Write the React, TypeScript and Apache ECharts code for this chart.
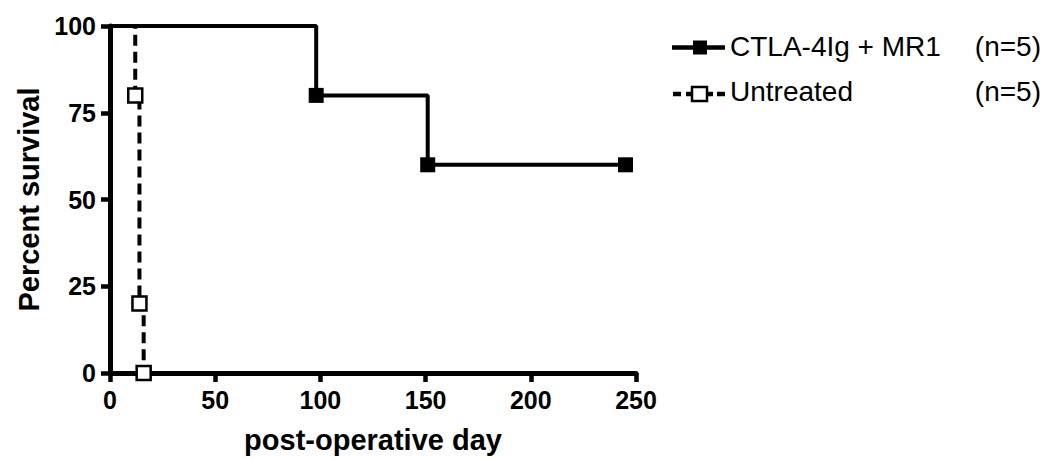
import React, { useEffect, useRef } from "react";
import * as echarts from "echarts";

const treatedDays = [0, 98, 151, 245];
const treatedSurvival = [100, 80, 60, 60];
const untreatedDays = [0, 12, 14, 16];
const untreatedSurvival = [100, 80, 20, 0];
const xTicks = [0, 50, 100, 150, 200, 250];
const yTicks = [0, 25, 50, 75, 100];
const legendNames = ["CTLA-4Ig + MR1", "Untreated"];
const legendCounts = ["(n=5)", "(n=5)"];
const xTitle = "post-operative day";
const yTitle = "Percent survival";

const FONT = "'Liberation Sans', Arial, sans-serif";

export default function App() {
  const ref = useRef<HTMLDivElement>(null);
  useEffect(() => {
    document.body.style.margin = "0";
    if (!ref.current) return;
    const chart = echarts.init(ref.current, undefined, { renderer: "svg" });
    const toData = (xs: number[], ys: number[]) =>
      xs.map((x, i) => (i === 0 ? { value: [x, ys[i]], symbol: "none" } : { value: [x, ys[i]] }));
    const textY = [46, 91];
    const symY = [47.5, 94];
    const graphics: any[] = [];
    // legend row 1: solid line with filled square
    graphics.push({
      type: "line",
      shape: { x1: 672, y1: symY[0], x2: 725, y2: symY[0] },
      style: { stroke: "#000", lineWidth: 4.5 },
    });
    graphics.push({
      type: "rect",
      shape: { x: 693, y: symY[0] - 7, width: 14, height: 14 },
      style: { fill: "#000" },
    });
    // legend row 2: dashes with open square
    graphics.push({
      type: "line",
      shape: { x1: 673, y1: symY[1], x2: 681, y2: symY[1] },
      style: { stroke: "#000", lineWidth: 4.5 },
    });
    graphics.push({
      type: "line",
      shape: { x1: 717, y1: symY[1], x2: 725, y2: symY[1] },
      style: { stroke: "#000", lineWidth: 4.5 },
    });
    graphics.push({
      type: "line",
      shape: { x1: 686, y1: symY[1], x2: 713, y2: symY[1] },
      style: { stroke: "#000", lineWidth: 4.5 },
    });
    graphics.push({
      type: "rect",
      shape: { x: 692, y: symY[1] - 7, width: 15, height: 14 },
      style: { fill: "#fff", stroke: "#000", lineWidth: 2.5 },
    });
    legendNames.forEach((n, i) => {
      graphics.push({
        type: "text",
        x: 730,
        y: textY[i],
        style: { text: n, font: `28px ${FONT}`, fill: "#000", verticalAlign: "middle", align: "left" },
      });
      graphics.push({
        type: "text",
        x: 1041,
        y: textY[i],
        style: { text: legendCounts[i], font: `28px ${FONT}`, fill: "#000", verticalAlign: "middle", align: "right" },
      });
    });

    const axisCommon = {
      axisLine: { show: true, lineStyle: { color: "#000", width: 5 } },
      axisTick: { show: true, inside: false, length: 9, lineStyle: { color: "#000", width: 4.5 } },
      splitLine: { show: false },
      axisLabel: { color: "#000", fontSize: 25, fontWeight: "bold", fontFamily: FONT },
      nameTextStyle: { color: "#000", fontSize: 29, fontWeight: "bold", fontFamily: FONT },
    };

    chart.setOption({
      animation: false,
      backgroundColor: "#fff",
      grid: { left: 110, right: 411, top: 26, bottom: 82, containLabel: false },
      xAxis: {
        type: "value",
        min: xTicks[0],
        max: xTicks[xTicks.length - 1],
        interval: xTicks[1] - xTicks[0],
        ...axisCommon,
        axisLabel: { ...axisCommon.axisLabel, margin: 14 },
        name: xTitle,
        nameLocation: "middle",
        nameGap: 52,
      },
      yAxis: {
        type: "value",
        min: yTicks[0],
        max: yTicks[yTicks.length - 1],
        interval: yTicks[1] - yTicks[0],
        ...axisCommon,
        axisLabel: { ...axisCommon.axisLabel, margin: 14 },
        name: yTitle,
        nameLocation: "middle",
        nameGap: 67,
      },
      series: [
        {
          name: legendNames[0],
          type: "line",
          step: "end",
          data: toData(treatedDays, treatedSurvival),
          lineStyle: { color: "#000", width: 4 },
          symbol: "rect",
          symbolSize: 15,
          itemStyle: { color: "#000" },
          z: 3,
        },
        {
          name: legendNames[1],
          type: "line",
          step: "end",
          data: toData(untreatedDays, untreatedSurvival),
          lineStyle: { color: "#000", width: 4, type: [11, 6] },
          symbol: "rect",
          symbolSize: 14,
          itemStyle: { color: "#fff", borderColor: "#000", borderWidth: 2.5 },
          z: 4,
        },
      ],
      graphic: graphics,
    });
    return () => chart.dispose();
  }, []);
  return <div ref={ref} style={{ width: 1047, height: 459 }} />;
}
